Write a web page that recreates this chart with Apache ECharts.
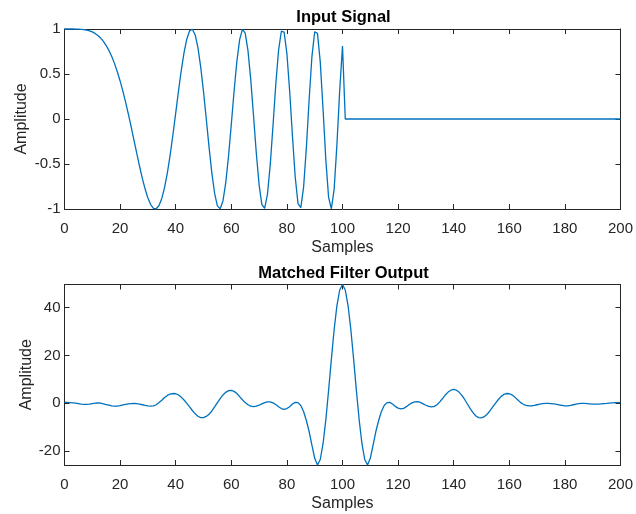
<!DOCTYPE html>
<html>
<head>
<meta charset="utf-8">
<script src="https://cdn.jsdelivr.net/npm/echarts@6/dist/echarts.min.js"></script>
<style>
html,body{margin:0;padding:0;background:#fff;}
#chart{width:636px;height:514px;}
</style>
</head>
<body>
<div id="chart"></div>
<script>
// ---- data ----
var inputSignal = [
 1.000, 1.000, 1.000, 0.9999, 0.9996, 0.9987, 0.9969, 0.9936, 0.9882, 0.9799,
 0.9678, 0.9511, 0.9286, 0.8994, 0.8624, 0.8163, 0.7604, 0.6937, 0.6154, 0.5252,
 0.4229, 0.3090, 0.1845, 0.0502, -0.0910, -0.2365, -0.3827, -0.5252, -0.6591, -0.7784,
 -0.8777, -0.9511, -0.9925, -0.9972, -0.9612, -0.8823, -0.7604, -0.5979, -0.4005, -0.1750,
 0.0660, 0.3090, 0.5385, 0.7374, 0.8894, 0.9799, 0.9969, 0.9343, 0.7921, 0.5771,
 0.3060, 0.0000, -0.3120, -0.5979, -0.8253, -0.9652, -0.9969, -0.9101, -0.7093, -0.4141,
 -0.0597, 0.3090, 0.6397, 0.8823, 0.9953, 0.9549, 0.7604, 0.4377, 0.0345, -0.3798,
 -0.7311, -0.9511, -0.9917, -0.8375, -0.5120, -0.0753, 0.3827, 0.7624, 0.9752, 0.9654,
 0.7270, 0.3090, -0.1905, -0.6472, -0.9397, -0.9846, -0.7604, -0.3209, 0.2147, 0.6937,
 0.9694, 0.9511, 0.6351, 0.1129, -0.4512, -0.8705, -0.9969, -0.7785, -0.2823, 0.3209,
 0.8109,
 0,0,0,0,0,0,0,0,0,0, 0,0,0,0,0,0,0,0,0,0, 0,0,0,0,0,0,0,0,0,0, 0,0,0,0,0,0,0,0,0,0,
 0,0,0,0,0,0,0,0,0,0, 0,0,0,0,0,0,0,0,0,0, 0,0,0,0,0,0,0,0,0,0, 0,0,0,0,0,0,0,0,0,0,
 0,0,0,0,0,0,0,0,0,0, 0,0,0,0,0,0,0,0,0,0
];
var filterOutput = [
 0.4, 0.4, 0.3, 0.2, 0.1, -0.1, -0.3, -0.4, -0.4, -0.3,
 -0.1, 0.1, 0.2, 0.1, -0.2, -0.5, -0.8, -1.1, -1.2, -1.2,
 -1.0, -0.7, -0.4, -0.2, -0.1, 0.0, -0.1, -0.3, -0.6, -0.9,
 -1.1, -1.2, -1.1, -0.6, 0.3, 1.3, 2.4, 3.3, 3.9, 4.1,
 4.0, 3.5, 2.6, 1.4, 0.0, -1.5, -3.0, -4.4, -5.4, -6.0,
 -6.0, -5.5, -4.6, -3.2, -1.5, 0.3, 2.0, 3.5, 4.6, 5.3,
 5.4, 5.0, 4.1, 2.8, 1.5, 0.3, -0.6, -1.2, -1.4, -1.2,
 -0.8, -0.2, 0.3, 0.6, 0.6, 0.2, -0.5, -1.4, -2.2, -2.5,
 -2.2, -1.4, -0.3, 0.4, 0.3, -0.9, -3.4, -7.2, -11.8, -17.5,
 -23.0, -25.8, -23.5, -16.9, -6.9, 5.4, 18.5, 30.9, 40.9, 47.4,
 49.7,
 47.4, 40.9, 30.9, 18.5, 5.4, -6.9, -16.9, -23.5, -25.8, -23.0,
 -17.5, -11.8, -7.2, -3.4, -0.9, 0.3, 0.4, -0.3, -1.3, -2.0,
 -2.3, -2.1, -1.4, -0.5, 0.2, 0.6, 0.7, 0.4, -0.2, -0.8,
 -1.3, -1.5, -1.3, -0.6, 0.6, 2.0, 3.5, 4.7, 5.5, 5.8,
 5.5, 4.6, 3.2, 1.5, -0.4, -2.3, -4.0, -5.3, -6.0, -6.1,
 -5.6, -4.6, -3.2, -1.6, 0.0, 1.5, 2.8, 3.7, 4.1, 4.0,
 3.5, 2.6, 1.5, 0.4, -0.4, -0.9, -1.1, -1.1, -0.9, -0.6,
 -0.3, -0.1, 0.0, 0.0, -0.1, -0.2, -0.4, -0.7, -0.9, -1.1,
 -1.1, -0.9, -0.6, -0.3, -0.1, 0.0, 0.0, -0.1, -0.2, -0.3,
 -0.3, -0.3, -0.2, -0.1, 0.0, 0.1, 0.2, 0.3, 0.3, 0.4
];
var xTicks = [0, 20, 40, 60, 80, 100, 120, 140, 160, 180, 200];
var topYTicks = [-1, -0.5, 0, 0.5, 1];
var bottomYTicks = [-20, 0, 20, 40];
var titles = ['Input Signal', 'Matched Filter Output'];
var xName = 'Samples';
var yName = 'Amplitude';

// ---- chart ----
var AX = '#262626';
var FONT = 'Liberation Sans, Arial, Helvetica, sans-serif';
var chart = echarts.init(document.getElementById('chart'), null, {renderer: 'canvas'});

function toPairs(arr) { return arr.map(function (v, i) { return [i, v]; }); }

function xAxisDef(gi, pos, showLabel) {
  return {
    type: 'value', gridIndex: gi, position: pos, min: 0, max: 200, interval: 20,
    name: showLabel ? xName : '', nameLocation: 'middle', nameGap: 31, nameMoveOverlap: false,
    nameTextStyle: {color: AX, fontSize: 16, fontFamily: FONT},
    axisLine: {show: true, onZero: false, lineStyle: {color: AX, width: 1}},
    axisTick: {show: true, inside: true, length: 5, lineStyle: {color: AX, width: 1}, customValues: xTicks},
    axisLabel: {show: showLabel, color: AX, fontSize: 15, fontFamily: FONT, margin: 12, customValues: xTicks},
    splitLine: {show: false}
  };
}
function yAxisDef(gi, pos, showLabel, min, max, ticks, nameGap) {
  return {
    type: 'value', gridIndex: gi, position: pos, min: min, max: max,
    name: showLabel ? yName : '', nameLocation: 'middle', nameGap: nameGap, nameMoveOverlap: false,
    nameTextStyle: {color: AX, fontSize: 16, fontFamily: FONT},
    axisLine: {show: true, onZero: false, lineStyle: {color: AX, width: 1}},
    axisTick: {show: true, inside: true, length: 5, lineStyle: {color: AX, width: 1}, customValues: ticks},
    axisLabel: {show: showLabel, color: AX, fontSize: 15, fontFamily: FONT, margin: 4, customValues: ticks},
    splitLine: {show: false}
  };
}

var option = {
  animation: false,
  backgroundColor: '#ffffff',
  graphic: [
    {type: 'text', x: 343.5, y: 9,
     style: {text: titles[0], textAlign: 'center', textVerticalAlign: 'top',
             fontSize: 16.5, fontWeight: 'bold', fill: '#000', fontFamily: FONT}},
    {type: 'text', x: 343.5, y: 265,
     style: {text: titles[1], textAlign: 'center', textVerticalAlign: 'top',
             fontSize: 16.5, fontWeight: 'bold', fill: '#000', fontFamily: FONT}}
  ],
  grid: [
    {left: 64.5, top: 29, width: 558.5, height: 180},
    {left: 64.5, top: 284.5, width: 558.5, height: 180.5}
  ],
  xAxis: [
    xAxisDef(0, 'bottom', true),
    xAxisDef(0, 'top', false),
    xAxisDef(1, 'bottom', true),
    xAxisDef(1, 'top', false)
  ],
  yAxis: [
    yAxisDef(0, 'left', true, -1, 1, topYTicks, 35),
    yAxisDef(0, 'right', false, -1, 1, topYTicks, 0),
    yAxisDef(1, 'left', true, -25.8, 49.7, bottomYTicks, 30),
    yAxisDef(1, 'right', false, -25.8, 49.7, bottomYTicks, 0)
  ],
  series: [
    {type: 'line', xAxisIndex: 0, yAxisIndex: 0, data: toPairs(inputSignal), showSymbol: false,
     clip: false, lineStyle: {color: '#0072BD', width: 1.3}, itemStyle: {color: '#0072BD'}},
    {type: 'line', xAxisIndex: 2, yAxisIndex: 2, data: toPairs(filterOutput), showSymbol: false,
     clip: false, lineStyle: {color: '#0072BD', width: 1.3}, itemStyle: {color: '#0072BD'}}
  ]
};
chart.setOption(option);
</script>
</body>
</html>
